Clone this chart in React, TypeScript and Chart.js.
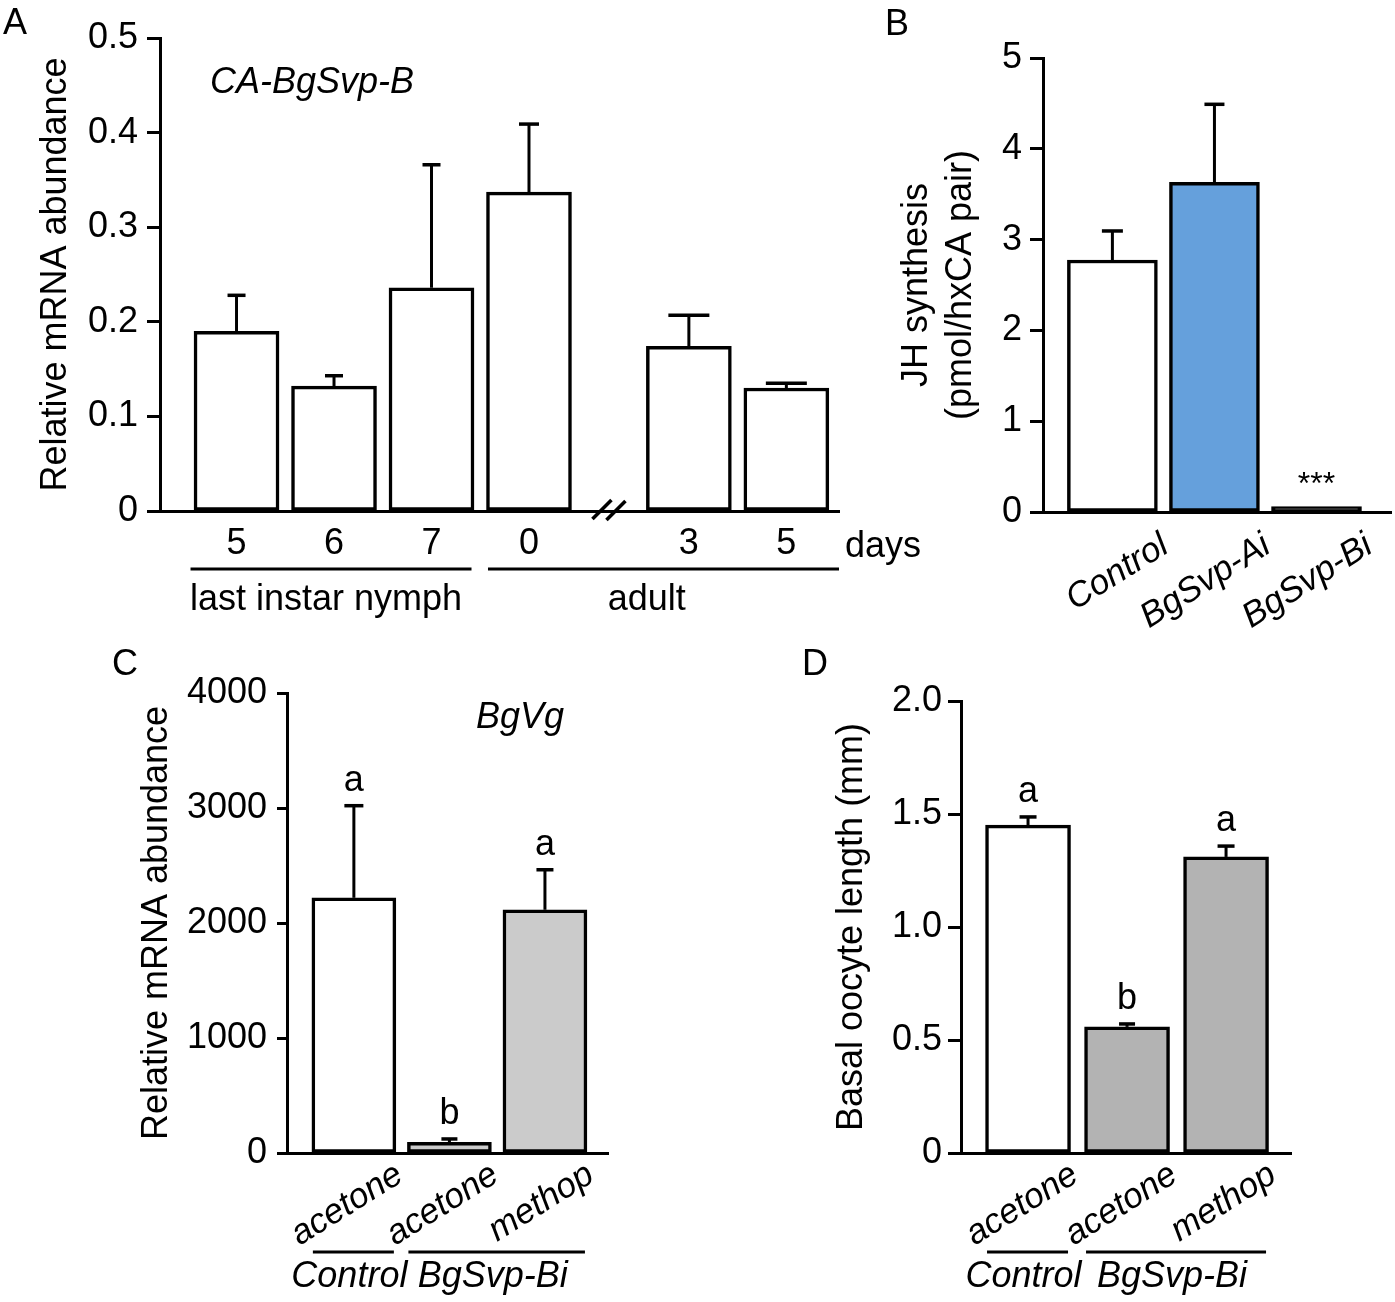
import React, { useEffect, useRef } from "react";
import { Chart, registerables } from "chart.js";

Chart.register(...registerables);

const FONT = "'Liberation Sans', Arial, Helvetica, sans-serif";
const BLACK = "#000000";

// ---------- Panel A : CA-BgSvp-B expression ----------
const daysA = ["5", "6", "7", "0", "3", "5"];
const meanA = [0.19, 0.132, 0.236, 0.337, 0.174, 0.13];
const semA = [0.038, 0.011, 0.13, 0.072, 0.033, 0.005];
const stagesA = ["last instar nymph", "adult"];
const geneA = "CA-BgSvp-B";

// ---------- Panel B : JH synthesis ----------
const groupsB = ["Control", "BgSvp-Ai", "BgSvp-Bi"];
const meanB = [2.775, 3.63, 0.06];
const semB = [0.32, 0.86, 0];
const signifB = ["", "", "***"];

// ---------- Panel C : BgVg expression ----------
const treatmentsC = ["acetone", "acetone", "methop"];
const meanC = [2219, 93, 2115];
const semC = [801, 29, 348];
const lettersC = ["a", "b", "a"];
const geneC = "BgVg";

// ---------- Panel D : basal oocyte length ----------
const treatmentsD = ["acetone", "acetone", "methop"];
const meanD = [1.451, 0.558, 1.31];
const semD = [0.036, 0.013, 0.048];
const lettersD = ["a", "b", "a"];

// groups shared by C and D (first/last bar index of each group)
const groupsCD = ["Control", "BgSvp-Bi"];
const groupMembersCD = [
  [0, 0],
  [1, 2],
];

// ---------- helpers ----------
function font(size: number, italic = false, lineHeight = 1.2) {
  return { family: FONT, size, style: italic ? "italic" : "normal", lineHeight };
}

function text(
  ctx: CanvasRenderingContext2D,
  s: string,
  x: number,
  y: number,
  size: number,
  italic = false,
  align: CanvasTextAlign = "center"
) {
  ctx.save();
  ctx.font = `${italic ? "italic " : ""}${size}px ${FONT}`;
  ctx.fillStyle = BLACK;
  ctx.textAlign = align;
  ctx.textBaseline = "alphabetic";
  ctx.fillText(s, x, y);
  ctx.restore();
}

function line(ctx: CanvasRenderingContext2D, x1: number, y1: number, x2: number, y2: number, w = 3) {
  ctx.save();
  ctx.strokeStyle = BLACK;
  ctx.lineWidth = w;
  ctx.lineCap = "butt";
  ctx.beginPath();
  ctx.moveTo(x1, y1);
  ctx.lineTo(x2, y2);
  ctx.stroke();
  ctx.restore();
}

function errorBars(chart: any, slots: number[], means: number[], sems: number[], caps: number[]) {
  const { ctx } = chart;
  const xs = chart.scales.x;
  const ys = chart.scales.y;
  slots.forEach((p, i) => {
    if (!sems[i]) return;
    const x = xs.getPixelForValue(p);
    const y0 = ys.getPixelForValue(means[i]);
    const y1 = ys.getPixelForValue(means[i] + sems[i]);
    line(ctx, x, y0, x, y1, 3);
    line(ctx, x - caps[i] / 2, y1, x + caps[i] / 2, y1, 3.5);
  });
}

function yAxis(o: {
  min: number;
  max: number;
  step: number;
  width: number;
  tickLen: number;
  pad: number;
  title: string | string[];
  titlePad: number;
  titleLH?: number;
  fmt: (v: number) => string;
}) {
  return {
    type: "linear",
    min: o.min,
    max: o.max,
    afterFit: (s: any) => {
      s.width = o.width;
    },
    grid: {
      display: true,
      drawOnChartArea: false,
      drawTicks: true,
      tickLength: o.tickLen,
      tickWidth: 3,
      color: BLACK,
    },
    border: { display: true, color: BLACK, width: 3 },
    ticks: {
      stepSize: o.step,
      padding: o.pad,
      color: BLACK,
      font: font(36),
      callback: (v: any) => o.fmt(Number(v)),
    },
    title: {
      display: true,
      text: o.title,
      color: BLACK,
      font: font(36, false, o.titleLH ?? 1.2),
      padding: { top: o.titlePad, bottom: 0 },
    },
  };
}

function xAxis(o: {
  min: number;
  max: number;
  slots: number[];
  labels: string[];
  height: number;
  size: number;
  italic: boolean;
  rotation: number;
  labelOffset: number;
  pad: number;
}) {
  return {
    type: "linear",
    offset: false,
    min: o.min,
    max: o.max,
    afterFit: (s: any) => {
      s.height = o.height;
    },
    afterBuildTicks: (s: any) => {
      s.ticks = o.slots.map((v) => ({ value: v }));
    },
    grid: { display: false, drawTicks: false, offset: false },
    border: { display: true, color: BLACK, width: 3 },
    ticks: {
      autoSkip: false,
      minRotation: o.rotation,
      maxRotation: o.rotation,
      padding: o.pad,
      labelOffset: o.labelOffset,
      color: BLACK,
      font: font(o.size, o.italic),
      callback: (_v: any, i: number) => o.labels[i],
    },
  };
}

function barDataset(slots: number[], values: number[], colors: string[], thickness: number) {
  return {
    data: slots.map((x, i) => ({ x, y: values[i] })),
    backgroundColor: colors,
    borderColor: BLACK,
    borderWidth: 3.5,
    borderSkipped: false,
    barThickness: thickness,
  };
}

const baseOptions = {
  responsive: false,
  animation: false,
  events: [],
  plugins: { legend: { display: false }, tooltip: { enabled: false } },
};

// ---------- panel configs ----------
function configA() {
  const slots = daysA.map((_, i) => (i < 4 ? i : i + 0.64));
  const caps = [18, 18, 18, 20, 41, 41];
  return {
    type: "bar",
    data: { datasets: [barDataset(slots, meanA, daysA.map(() => "#ffffff"), 85)] },
    options: {
      ...baseOptions,
      layout: { padding: { left: 0, top: 38, right: 91, bottom: 0 } },
      scales: {
        x: xAxis({ min: -0.785, max: 6.18, slots, labels: daysA, height: 129, size: 36, italic: false, rotation: 0, labelOffset: 0, pad: 11 }),
        y: yAxis({
          min: 0, max: 0.5, step: 0.1, width: 160, tickLen: 13, pad: 9,
          title: "Relative mRNA abundance", titlePad: 34,
          fmt: (v) => (v === 0 ? "0" : v.toFixed(1)),
        }),
      },
    },
    plugins: [
      {
        id: "decorA",
        afterDatasetsDraw(chart: any) {
          const { ctx, chartArea } = chart;
          const xs = chart.scales.x;
          errorBars(chart, slots, meanA, semA, caps);
          const px = slots.map((s) => xs.getPixelForValue(s));
          const b = chartArea.bottom;
          text(ctx, "A", 3, 34, 36, false, "left");
          text(ctx, geneA, chartArea.left + 152, chartArea.top + 55, 36, true);
          text(ctx, "days", chartArea.right + 6, b + 46, 36, false, "left");
          // axis break marks
          const cx = (px[3] + px[4]) / 2;
          line(ctx, cx - 16.5, b + 8, cx + 2.5, b - 11, 3.5);
          line(ctx, cx - 2.5, b + 9, cx + 16.5, b - 10, 3.5);
          // stage underlines and labels
          line(ctx, px[0] - 46, b + 58, px[2] + 40, b + 58, 3);
          line(ctx, px[3] - 41, b + 58, chartArea.right, b + 58, 3);
          text(ctx, stagesA[0], (px[0] + px[2]) / 2 - 8, b + 99, 36);
          text(ctx, stagesA[1], (px[3] + px[5]) / 2 - 11, b + 99, 36);
        },
      },
    ],
  };
}

function configB() {
  const slots = groupsB.map((_, i) => i);
  const caps = [21, 20, 20];
  return {
    type: "bar",
    data: { datasets: [barDataset(slots, meanB, ["#ffffff", "#65a0dc", "#000000"], 90)] },
    options: {
      ...baseOptions,
      layout: { padding: { left: 0, top: 58, right: 4, bottom: 0 } },
      scales: {
        x: xAxis({ min: -0.68, max: 2.73, slots, labels: groupsB, height: 128, size: 35, italic: true, rotation: 32, labelOffset: 53, pad: 13 }),
        y: yAxis({
          min: 0, max: 5, step: 1, width: 163, tickLen: 13, pad: 8,
          title: ["JH synthesis", "(pmol/hxCA pair)"], titlePad: 15, titleLH: 1.222,
          fmt: (v) => String(v),
        }),
      },
    },
    plugins: [
      {
        id: "decorB",
        afterDatasetsDraw(chart: any) {
          const { ctx } = chart;
          const xs = chart.scales.x;
          const ys = chart.scales.y;
          errorBars(chart, slots, meanB, semB, caps);
          text(ctx, "B", 5, 35, 36, false, "left");
          slots.forEach((s, i) => {
            if (!signifB[i]) return;
            const y = ys.getPixelForValue(meanB[i] + semB[i]);
            text(ctx, signifB[i], xs.getPixelForValue(s), y - 13, 32);
          });
        },
      },
    ],
  };
}

function groupDecor(ctx: CanvasRenderingContext2D, px: number[], bottom: number) {
  groupMembersCD.forEach(([a, z], g) => {
    const x1 = px[a] - 41;
    const x2 = px[z] + 40;
    line(ctx, x1, bottom + 99, x2, bottom + 99, 3);
    text(ctx, groupsCD[g], (x1 + x2) / 2 - 4, bottom + 134, 36, true);
  });
}

function letterDecor(chart: any, slots: number[], means: number[], sems: number[], letters: string[]) {
  const { ctx } = chart;
  const xs = chart.scales.x;
  const ys = chart.scales.y;
  slots.forEach((s, i) => {
    const y = ys.getPixelForValue(means[i] + sems[i]);
    text(ctx, letters[i], xs.getPixelForValue(s), y - 15, 36);
  });
}

function configC() {
  const slots = treatmentsC.map((_, i) => i);
  const caps = [19, 16, 17];
  return {
    type: "bar",
    data: { datasets: [barDataset(slots, meanC, ["#ffffff", "#cbcbcb", "#cbcbcb"], 84)] },
    options: {
      ...baseOptions,
      layout: { padding: { left: 0, top: 53, right: 52, bottom: 0 } },
      scales: {
        x: xAxis({ min: -0.7, max: 2.66, slots, labels: treatmentsC, height: 149, size: 35, italic: true, rotation: 32, labelOffset: 46, pad: 1 }),
        y: yAxis({
          min: 0, max: 4000, step: 1000, width: 187, tickLen: 10, pad: 10,
          title: "Relative mRNA abundance", titlePad: 35,
          fmt: (v) => String(Math.round(v)),
        }),
      },
    },
    plugins: [
      {
        id: "decorC",
        afterDatasetsDraw(chart: any) {
          const { ctx, chartArea } = chart;
          const xs = chart.scales.x;
          errorBars(chart, slots, meanC, semC, caps);
          letterDecor(chart, slots, meanC, semC, lettersC);
          text(ctx, "C", 12, 35, 36, false, "left");
          text(ctx, geneC, chartArea.left + 233, chartArea.top + 35, 36, true);
          groupDecor(ctx, slots.map((s) => xs.getPixelForValue(s)), chartArea.bottom);
        },
      },
    ],
  };
}

function configD() {
  const slots = treatmentsD.map((_, i) => i);
  const caps = [17, 16, 17];
  return {
    type: "bar",
    data: { datasets: [barDataset(slots, meanD, ["#ffffff", "#b3b3b3", "#b3b3b3"], 85)] },
    options: {
      ...baseOptions,
      layout: { padding: { left: 0, top: 61, right: 104, bottom: 0 } },
      scales: {
        x: xAxis({ min: -0.677, max: 2.656, slots, labels: treatmentsD, height: 149, size: 35, italic: true, rotation: 32, labelOffset: 47, pad: 1 }),
        y: yAxis({
          min: 0, max: 2, step: 0.5, width: 161, tickLen: 13, pad: 6,
          title: "Basal oocyte length (mm)", titlePad: 30,
          fmt: (v) => (v === 0 ? "0" : v.toFixed(1)),
        }),
      },
    },
    plugins: [
      {
        id: "decorD",
        afterDatasetsDraw(chart: any) {
          const { ctx, chartArea } = chart;
          const xs = chart.scales.x;
          errorBars(chart, slots, meanD, semD, caps);
          letterDecor(chart, slots, meanD, semD, lettersD);
          text(ctx, "D", 2, 35, 36, false, "left");
          groupDecor(ctx, slots.map((s) => xs.getPixelForValue(s)), chartArea.bottom);
        },
      },
    ],
  };
}

function Panel(props: { left: number; top: number; width: number; height: number; build: () => any }) {
  const ref = useRef<HTMLCanvasElement>(null);
  useEffect(() => {
    const chart = new Chart(ref.current as HTMLCanvasElement, props.build());
    return () => chart.destroy();
  }, []);
  return (
    <canvas
      ref={ref}
      width={props.width}
      height={props.height}
      style={{ position: "absolute", left: props.left, top: props.top, width: props.width, height: props.height }}
    />
  );
}

export default function App() {
  return (
    <div style={{ position: "absolute", left: 0, top: 0, width: 1395, height: 1302, background: "#ffffff", overflow: "hidden" }}>
      <Panel left={0} top={0} width={930} height={640} build={configA} />
      <Panel left={880} top={0} width={515} height={640} build={configB} />
      <Panel left={100} top={640} width={560} height={662} build={configC} />
      <Panel left={800} top={640} width={595} height={662} build={configD} />
    </div>
  );
}
